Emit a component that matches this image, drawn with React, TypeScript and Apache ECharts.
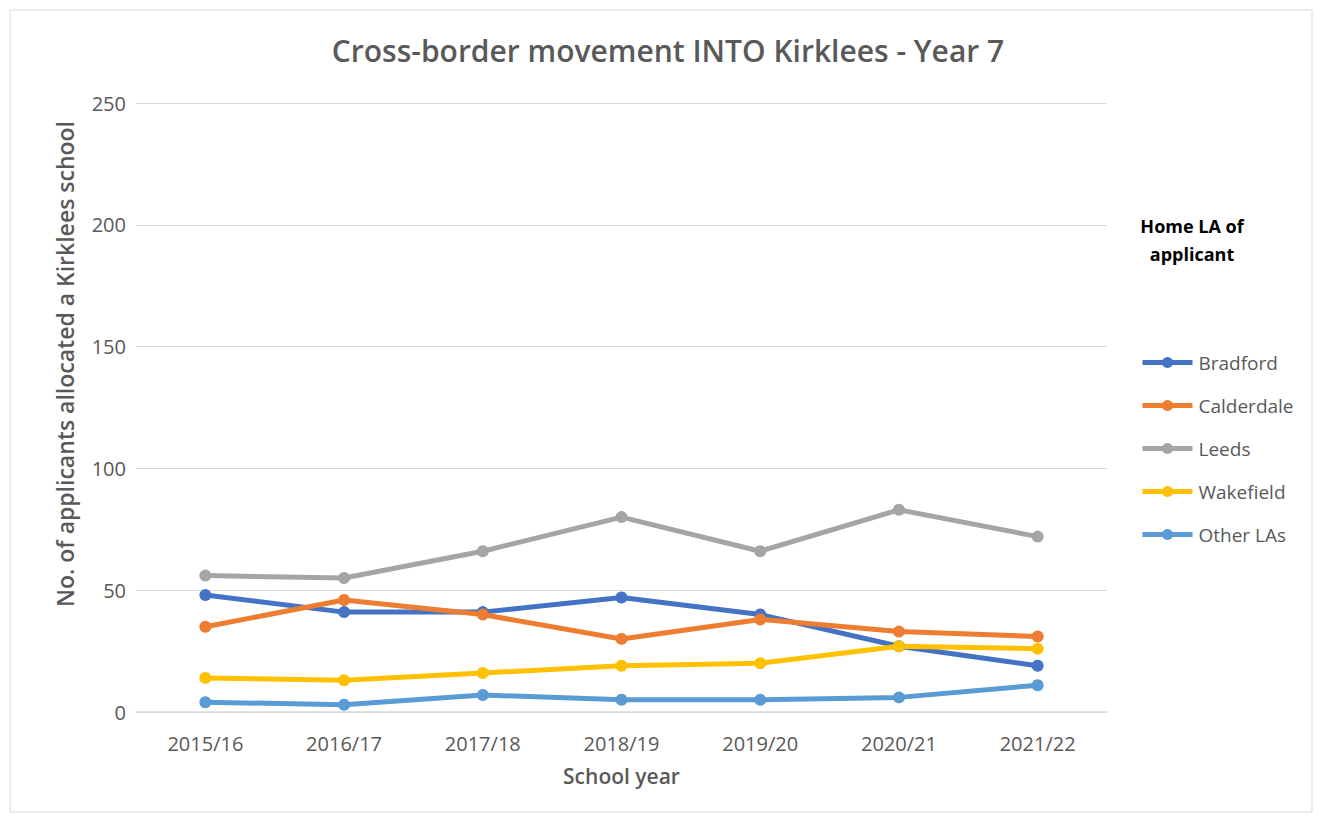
import React, { useEffect, useRef } from "react";
import * as echarts from "echarts";

const categories = ["2015/16", "2016/17", "2017/18", "2018/19", "2019/20", "2020/21", "2021/22"];
const bradford = [48, 41, 41, 47, 40, 27, 19];
const calderdale = [35, 46, 40, 30, 38, 33, 31];
const leeds = [56, 55, 66, 80, 66, 83, 72];
const wakefield = [14, 13, 16, 19, 20, 27, 26];
const otherLAs = [4, 3, 7, 5, 5, 6, 11];
const yTicks = { min: 0, max: 250, interval: 50 };

const seriesDefs = [
  { name: "Bradford", data: bradford, color: "#4472C4" },
  { name: "Calderdale", data: calderdale, color: "#ED7D31" },
  { name: "Leeds", data: leeds, color: "#A5A5A5" },
  { name: "Wakefield", data: wakefield, color: "#FFC000" },
  { name: "Other LAs", data: otherLAs, color: "#5B9BD5" },
];

const FONT = "'Open Sans', sans-serif";

export default function App() {
  const ref = useRef<HTMLDivElement>(null);
  useEffect(() => {
    document.body.style.margin = "0";
    const chart = echarts.init(ref.current!, undefined, { renderer: "svg" });
    chart.setOption({
      animation: false,
      backgroundColor: "#ffffff",
      textStyle: { fontFamily: FONT },
      title: {
        text: "Cross-border movement INTO Kirklees - Year 7",
        left: 663,
        textAlign: "center",
        top: 30,
        textStyle: { fontSize: 30, fontWeight: 600, color: "#595959", fontFamily: FONT },
      },
      grid: { left: 136, right: 215, top: 103, bottom: 107 },
      legend: {
        orient: "vertical",
        left: 1135,
        top: 348,
        itemWidth: 50,
        itemHeight: 14,
        itemGap: 24,
        lineStyle: { width: 5 },
        textStyle: { fontSize: 19, color: "#595959", fontFamily: FONT, padding: [0, 0, 0, 1] },
        data: seriesDefs.map((s) => s.name),
      },
      graphic: [
        {
          type: "rect",
          shape: { x: 10, y: 10, width: 1302, height: 802 },
          style: { fill: "none", stroke: "#d9d9d9", lineWidth: 1 },
          silent: true,
        },
        {
          type: "text",
          x: 1192,
          y: 240,
          style: {
            text: "Home LA of\napplicant",
            fontSize: 18,
            fontWeight: "bold",
            fill: "#000000",
            fontFamily: FONT,
            align: "center",
            verticalAlign: "middle",
            lineHeight: 28,
          },
          silent: true,
        },
        {
          type: "text",
          x: 65,
          y: 364,
          rotation: Math.PI / 2,
          style: {
            text: "No. of applicants allocated a Kirklees school",
            fontSize: 23,
            fontWeight: 600,
            fill: "#595959",
            fontFamily: FONT,
            align: "center",
            verticalAlign: "middle",
          },
          silent: true,
        },
      ],
      xAxis: {
        type: "category",
        data: categories,
        boundaryGap: true,
        axisLine: { lineStyle: { color: "#d9d9d9", width: 1.5 } },
        axisTick: { show: false },
        axisLabel: { fontSize: 20, color: "#595959", margin: 21, fontFamily: FONT },
        name: "School year",
        nameLocation: "middle",
        nameGap: 53,
        nameTextStyle: { fontSize: 21, fontWeight: 600, color: "#595959", fontFamily: FONT },
      },
      yAxis: {
        type: "value",
        min: yTicks.min,
        max: yTicks.max,
        interval: yTicks.interval,
        axisLine: { show: false },
        axisTick: { show: false },
        splitLine: { lineStyle: { color: "#d9d9d9", width: 1.2 } },
        axisLabel: { fontSize: 20, color: "#595959", margin: 10, fontFamily: FONT },
      },
      series: seriesDefs.map((s) => ({
        name: s.name,
        type: "line",
        data: s.data,
        symbol: "circle",
        symbolSize: 12,
        lineStyle: { width: 5, color: s.color },
        itemStyle: { color: s.color },
        emphasis: { disabled: true },
      })),
    });
    return () => chart.dispose();
  }, []);
  return <div ref={ref} style={{ position: "fixed", left: 0, top: 0, width: 1322, height: 819 }} />;
}
